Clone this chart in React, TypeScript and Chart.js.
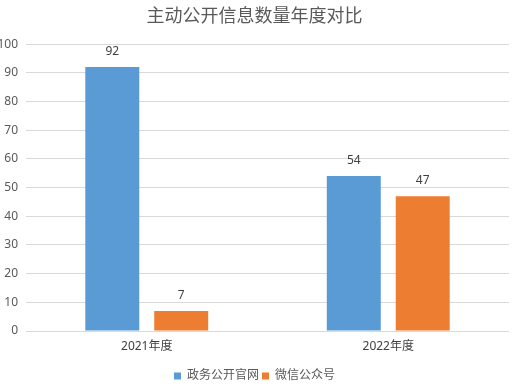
import React, { useEffect, useRef } from "react";
import { Chart, registerables } from "chart.js";

Chart.register(...registerables);

const titleText = "主动公开信息数量年度对比";
const categories = ["2021年度", "2022年度"];
const seriesNames = ["政务公开官网", "微信公众号"];
const websiteValues = [92, 54];
const wechatValues = [7, 47];
const colors = ["#5b9bd5", "#ed7d31"];
const FONT = "'Noto Sans', 'Noto Sans CJK SC', sans-serif";

const labelPlugin = {
  id: "valueLabels",
  afterLayout(chart: any) {
    if (chart.legend) {
      chart.legend.top += 3;
      chart.legend.bottom += 3;
    }
  },
  afterDatasetsDraw(chart: any) {
    const ctx = chart.ctx;
    ctx.save();
    ctx.font = `12px ${FONT}`;
    ctx.fillStyle = "#404040";
    ctx.textAlign = "center";
    ctx.textBaseline = "middle";
    chart.data.datasets.forEach((ds: any, i: number) => {
      const meta = chart.getDatasetMeta(i);
      meta.data.forEach((el: any, j: number) => {
        ctx.fillText(String(ds.data[j]), el.x, el.y - 15.5);
      });
    });
    ctx.restore();
  },
};

export default function App() {
  const ref = useRef<HTMLCanvasElement>(null);
  useEffect(() => {
    document.body.style.margin = "0";
    const chart = new Chart(ref.current!, {
      type: "bar",
      data: {
        labels: categories,
        datasets: [
          {
            label: seriesNames[0],
            data: websiteValues,
            backgroundColor: colors[0],
            categoryPercentage: 0.571,
            barPercentage: 0.783,
          },
          {
            label: seriesNames[1],
            data: wechatValues,
            backgroundColor: colors[1],
            categoryPercentage: 0.571,
            barPercentage: 0.783,
          },
        ],
      },
      options: {
        animation: false,
        responsive: false,
        layout: { padding: { top: 0, right: 8, left: 0, bottom: 0 } },
        plugins: {
          title: {
            display: true,
            text: titleText,
            color: "#595959",
            font: { family: FONT, size: 18, weight: "normal" },
            padding: { top: 6.5, bottom: 16 },
          },
          legend: {
            position: "bottom",
            labels: {
              boxWidth: 7,
              boxHeight: 7,
              color: "#595959",
              font: { family: FONT, size: 12 },
              padding: 3,
            },
          },
          tooltip: { enabled: false },
        },
        scales: {
          x: {
            grid: { display: false, drawTicks: false },
            border: { display: false },
            ticks: { color: "#404040", font: { family: FONT, size: 12 }, padding: 8 },
            afterFit(scale: any) {
              scale.height = 33;
            },
          },
          y: {
            min: 0,
            max: 100,
            ticks: {
              stepSize: 10,
              color: "#595959",
              font: { family: FONT, size: 12 },
              padding: 8,
            },
            grid: { color: "#d9d9d9", drawTicks: false },
            border: { display: false },
            afterFit(scale: any) {
              scale.width = 26;
            },
          },
        },
      },
      plugins: [labelPlugin],
    });
    return () => chart.destroy();
  }, []);
  return <canvas ref={ref} width={517} height={389} style={{ display: "block" }} />;
}
